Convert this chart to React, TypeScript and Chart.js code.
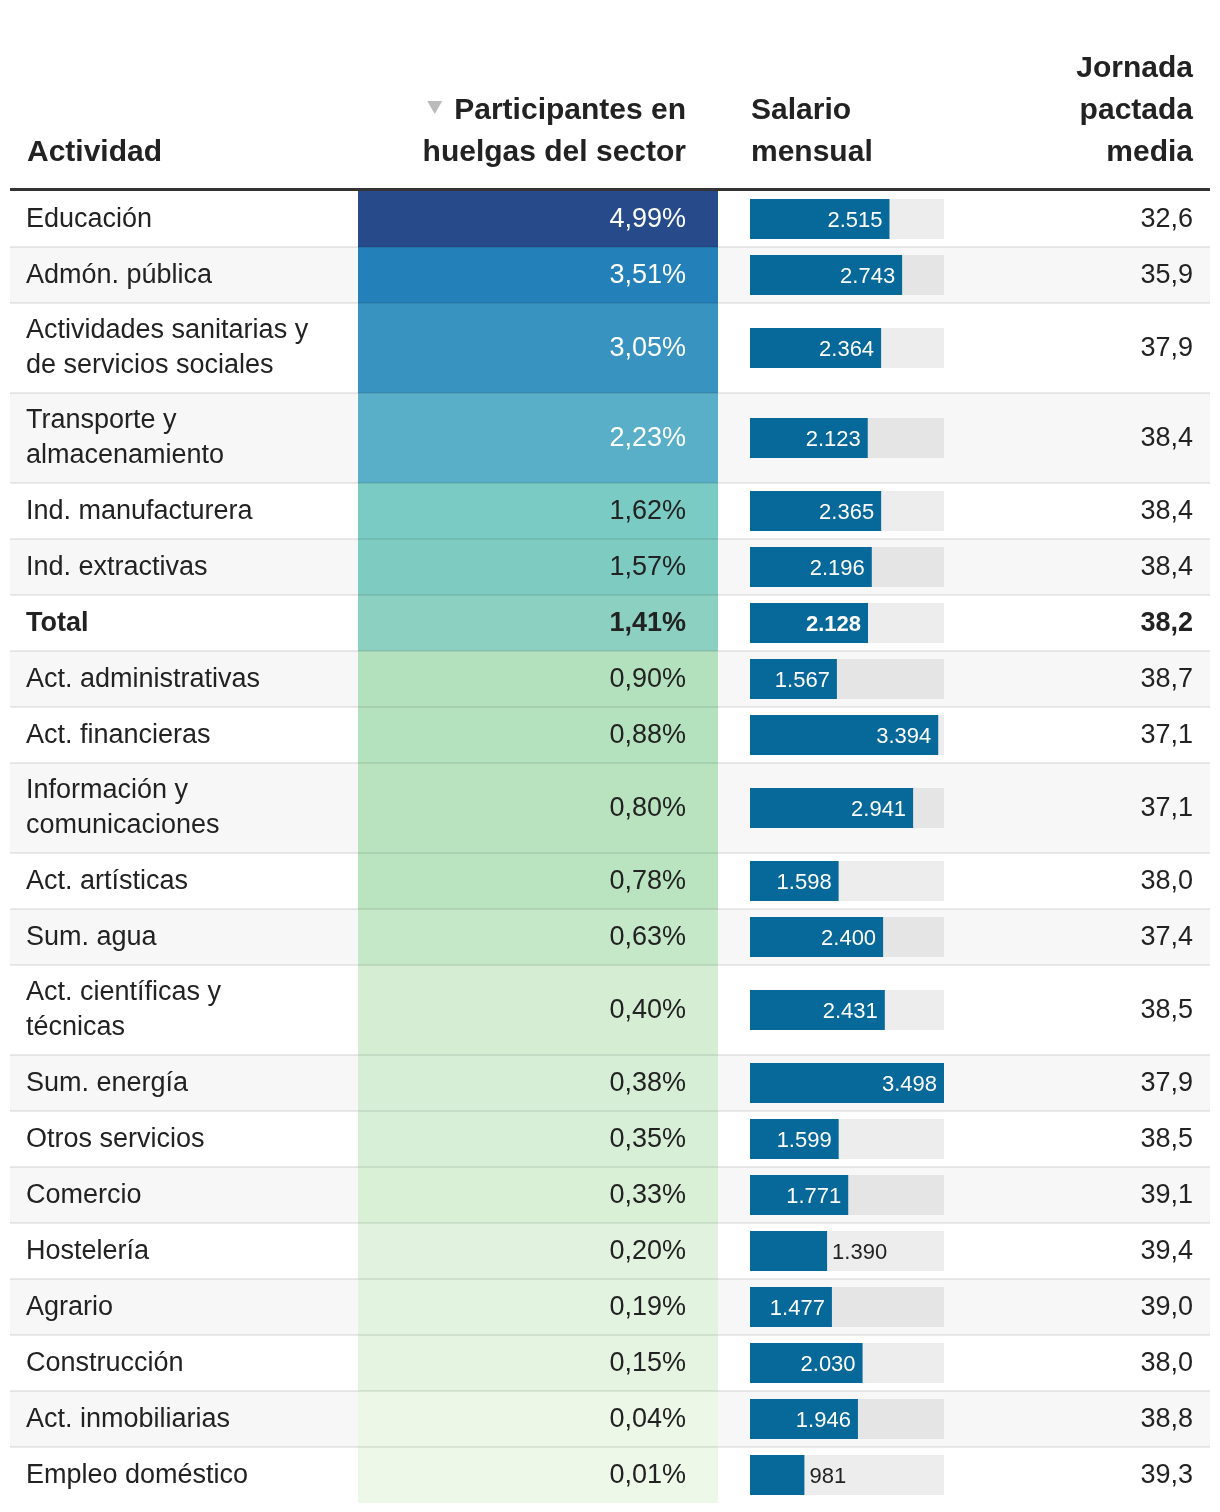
import React, { useEffect, useRef } from "react";
import { Chart, registerables } from "chart.js";

Chart.register(...registerables);

// ---------------- data ----------------
const ACTIVIDADES: string[][] = [
  ["Educación"],
  ["Admón. pública"],
  ["Actividades sanitarias y", "de servicios sociales"],
  ["Transporte y", "almacenamiento"],
  ["Ind. manufacturera"],
  ["Ind. extractivas"],
  ["Total"],
  ["Act. administrativas"],
  ["Act. financieras"],
  ["Información y", "comunicaciones"],
  ["Act. artísticas"],
  ["Sum. agua"],
  ["Act. científicas y", "técnicas"],
  ["Sum. energía"],
  ["Otros servicios"],
  ["Comercio"],
  ["Hostelería"],
  ["Agrario"],
  ["Construcción"],
  ["Act. inmobiliarias"],
  ["Empleo doméstico"],
];
const PARTICIPANTES = [4.99, 3.51, 3.05, 2.23, 1.62, 1.57, 1.41, 0.9, 0.88, 0.8, 0.78, 0.63, 0.4, 0.38, 0.35, 0.33, 0.2, 0.19, 0.15, 0.04, 0.01];
const SALARIO = [2515, 2743, 2364, 2123, 2365, 2196, 2128, 1567, 3394, 2941, 1598, 2400, 2431, 3498, 1599, 1771, 1390, 1477, 2030, 1946, 981];
const JORNADA = [32.6, 35.9, 37.9, 38.4, 38.4, 38.4, 38.2, 38.7, 37.1, 37.1, 38.0, 37.4, 38.5, 37.9, 38.5, 39.1, 39.4, 39.0, 38.0, 38.8, 39.3];
const TOTAL_LABEL = "Total";

const HEADER_ACTIVIDAD = ["Actividad"];
const HEADER_PARTICIPANTES = ["Participantes en", "huelgas del sector"];
const HEADER_SALARIO = ["Salario", "mensual"];
const HEADER_JORNADA = ["Jornada", "pactada", "media"];

// ---------------- styles ----------------
const HEAT_COLORS = [
  "#264a8a", "#2380b9", "#3893c1", "#5aafc8", "#7acbc3", "#7ecbc2", "#8bd0c1",
  "#b3e1be", "#b4e2be", "#b9e3bf", "#bae3bf", "#c5e8c9", "#d4edd3", "#d6eed6",
  "#d8efd7", "#d9f0d7", "#e1f3df", "#e2f4e0", "#e4f4e1", "#ecf7e7", "#eef8e9",
];
const STRIPE = "#f7f7f7";
const TRACK = "rgba(0,0,0,0.07)";
const BAR_COLOR = "#07689a";
const TEXT = "#222222";
const FONT = "'Liberation Sans', Arial, Helvetica, sans-serif";

// ---------------- layout ----------------
const W = 1220;
const H = 1512;
const TABLE_L = 10;
const TABLE_R = 1210;
const HEADER_RULE_Y = 189.5;
const BODY_TOP = 191;
const ROW_H_ONE = 56;
const ROW_H_TWO = 90;
const HEAT_L = 358;
const HEAT_R = 718;
const BAR_L = 750;
const BAR_R = 944;
const BAR_H = 40;
const TEXT_L = 26;
const HEAT_TEXT_R = 686;
const SALARIO_HDR_L = 751;
const JORNADA_R = 1193;
const HEADER_LAST_BASELINE = 161;
const HEADER_LINE_GAP = 42;
const BODY_SIZE = 27;
const HEADER_SIZE = 30;
const BAR_LABEL_SIZE = 22;
const LINE_GAP = 35;

const rowHeights = ACTIVIDADES.map((l) => (l.length > 1 ? ROW_H_TWO : ROW_H_ONE));
const rowTops: number[] = [];
{
  let acc = BODY_TOP;
  rowHeights.forEach((h) => {
    rowTops.push(acc);
    acc += h;
  });
}
const rowBottoms = rowTops.map((t, i) => t + rowHeights[i]);
const rowCenters = rowTops.map((t, i) => t + rowHeights[i] / 2);
const SAL_MAX = Math.max(...SALARIO);
const SAL_PER_PX = SAL_MAX / (BAR_R - BAR_L);

const fmtPct = (v: number) => v.toFixed(2).replace(".", ",") + "%";
const fmtSal = (v: number) => String(Math.round(v)).replace(/\B(?=(\d{3})+(?!\d))/g, ".");
const fmtJor = (v: number) => v.toFixed(1).replace(".", ",");

const tablePlugin = {
  id: "tableText",
  afterDatasetsDraw(chart: any) {
    const ctx: CanvasRenderingContext2D = chart.ctx;
    const sx = chart.scales.x;
    const sy = chart.scales.y;
    const ss = chart.scales.xs;
    const px = (v: number) => sx.getPixelForValue(v);
    const py = (v: number) => sy.getPixelForValue(v);
    const n = ACTIVIDADES.length;
    ctx.save();

    // row separators
    ctx.strokeStyle = "rgba(0,0,0,0.08)";
    ctx.lineWidth = 2;
    for (let i = 1; i < n; i++) {
      const y = py(rowTops[i]);
      ctx.beginPath();
      ctx.moveTo(px(TABLE_L), y);
      ctx.lineTo(px(TABLE_R), y);
      ctx.stroke();
    }
    // header rule
    ctx.strokeStyle = "#333333";
    ctx.lineWidth = 3;
    ctx.beginPath();
    ctx.moveTo(px(TABLE_L), py(HEADER_RULE_Y));
    ctx.lineTo(px(TABLE_R), py(HEADER_RULE_Y));
    ctx.stroke();

    // headers
    ctx.fillStyle = TEXT;
    ctx.textBaseline = "alphabetic";
    ctx.font = `bold ${HEADER_SIZE}px ${FONT}`;
    const hdr = (lines: string[], x: number, align: CanvasTextAlign) => {
      ctx.textAlign = align;
      lines.forEach((t, k) => {
        const b = HEADER_LAST_BASELINE - HEADER_LINE_GAP * (lines.length - 1 - k);
        ctx.fillText(t, px(x), py(b));
      });
    };
    hdr(HEADER_ACTIVIDAD, TEXT_L + 1, "left");
    hdr(HEADER_PARTICIPANTES, HEAT_TEXT_R, "right");
    hdr(HEADER_SALARIO, SALARIO_HDR_L, "left");
    hdr(HEADER_JORNADA, JORNADA_R, "right");
    // sort triangle
    {
      const firstB = HEADER_LAST_BASELINE - HEADER_LINE_GAP * (HEADER_PARTICIPANTES.length - 1);
      const w = ctx.measureText(HEADER_PARTICIPANTES[0]).width;
      const right = px(HEAT_TEXT_R) - w - 12;
      const top = py(firstB - 18);
      ctx.fillStyle = "#bbbbbb";
      ctx.beginPath();
      ctx.moveTo(right - 15, top);
      ctx.lineTo(right, top);
      ctx.lineTo(right - 7.5, top + 13);
      ctx.closePath();
      ctx.fill();
    }

    // body
    for (let i = 0; i < n; i++) {
      const isTotal = ACTIVIDADES[i][0] === TOTAL_LABEL;
      const weight = isTotal ? "bold" : "normal";
      const c = rowCenters[i];
      const lines = ACTIVIDADES[i];
      ctx.font = `${weight} ${BODY_SIZE}px ${FONT}`;
      ctx.fillStyle = TEXT;
      ctx.textAlign = "left";
      lines.forEach((t, k) => {
        const b = c + 7.5 + (k - (lines.length - 1) / 2) * LINE_GAP;
        ctx.fillText(t, px(TEXT_L), py(b));
      });
      // heat value
      ctx.textAlign = "right";
      ctx.fillStyle = PARTICIPANTES[i] >= 2 ? "#ffffff" : TEXT;
      ctx.fillText(fmtPct(PARTICIPANTES[i]), px(HEAT_TEXT_R), py(c + 7.5));
      // jornada
      ctx.fillStyle = TEXT;
      ctx.fillText(fmtJor(JORNADA[i]), px(JORNADA_R), py(c + 7.5));
      // salary label
      ctx.font = `${weight} ${BAR_LABEL_SIZE}px ${FONT}`;
      const label = fmtSal(SALARIO[i]);
      const lw = ctx.measureText(label).width;
      const x0 = ss.getPixelForValue(0);
      const x1 = ss.getPixelForValue(SALARIO[i]);
      const by = py(c + 8);
      if (x1 - x0 >= lw + 24) {
        ctx.textAlign = "right";
        ctx.fillStyle = "#ffffff";
        ctx.fillText(label, x1 - 7, by);
      } else {
        ctx.textAlign = "left";
        ctx.fillStyle = TEXT;
        ctx.fillText(label, x1 + 5, by);
      }
    }
    ctx.restore();
  },
};

export default function App() {
  const canvasRef = useRef<HTMLCanvasElement | null>(null);

  useEffect(() => {
    const canvas = canvasRef.current;
    if (!canvas) return;
    const tableMidX = (TABLE_L + TABLE_R) / 2;
    const heatMidX = (HEAT_L + HEAT_R) / 2;

    const chart = new Chart(canvas, {
      type: "bar",
      data: {
        datasets: [
          {
            label: "filas",
            indexAxis: "x",
            xAxisID: "x",
            yAxisID: "y",
            data: ACTIVIDADES.map((_, i) => ({ x: tableMidX, y: [rowTops[i], rowBottoms[i]] })),
            backgroundColor: ACTIVIDADES.map((_, i) => (i % 2 === 1 ? STRIPE : "rgba(255,255,255,0)")),
            barThickness: TABLE_R - TABLE_L,
            grouped: false,
            borderWidth: 0,
            inflateAmount: 0,
            order: 4,
          } as any,
          {
            label: "Participantes en huelgas del sector",
            indexAxis: "x",
            xAxisID: "x",
            yAxisID: "y",
            data: ACTIVIDADES.map((_, i) => ({ x: heatMidX, y: [rowTops[i], rowBottoms[i]] })),
            backgroundColor: HEAT_COLORS,
            barThickness: HEAT_R - HEAT_L,
            grouped: false,
            borderWidth: 0,
            inflateAmount: 0,
            order: 3,
          } as any,
          {
            label: "fondo salario",
            indexAxis: "y",
            xAxisID: "xs",
            yAxisID: "y",
            data: ACTIVIDADES.map((_, i) => ({ x: SAL_MAX, y: rowCenters[i] })),
            backgroundColor: TRACK,
            barThickness: BAR_H,
            grouped: false,
            borderWidth: 0,
            inflateAmount: 0,
            order: 2,
          } as any,
          {
            label: "Salario mensual",
            indexAxis: "y",
            xAxisID: "xs",
            yAxisID: "y",
            data: SALARIO.map((v, i) => ({ x: v, y: rowCenters[i] })),
            backgroundColor: BAR_COLOR,
            barThickness: BAR_H,
            grouped: false,
            borderWidth: 0,
            inflateAmount: 0,
            order: 1,
          } as any,
        ],
      },
      options: {
        responsive: false,
        animation: false,
        events: [],
        layout: { padding: 0 },
        plugins: {
          legend: { display: false },
          tooltip: { enabled: false },
          title: { display: false },
        },
        scales: {
          x: { type: "linear", axis: "x", min: 0, max: W, display: false, offset: false, grid: { offset: false } },
          xs: {
            type: "linear",
            axis: "x",
            min: -BAR_L * SAL_PER_PX,
            max: (W - BAR_L) * SAL_PER_PX,
            display: false,
            offset: false,
            grid: { offset: false },
          },
          y: { type: "linear", axis: "y", min: 0, max: H, reverse: true, display: false, offset: false, grid: { offset: false } },
        },
      } as any,
      plugins: [tablePlugin],
    });
    return () => chart.destroy();
  }, []);

  return (
    <div style={{ position: "absolute", left: 0, top: 0, width: W, height: H, background: "#ffffff" }}>
      <canvas ref={canvasRef} width={W} height={H} style={{ display: "block", width: W, height: H }} />
    </div>
  );
}
